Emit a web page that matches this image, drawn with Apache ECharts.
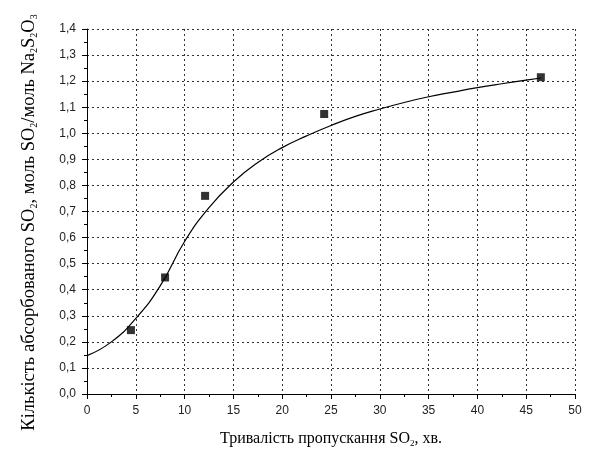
<!DOCTYPE html>
<html>
<head>
<meta charset="utf-8">
<script src="https://cdn.jsdelivr.net/npm/echarts@6/dist/echarts.min.js"></script>
<style>html,body{margin:0;padding:0;background:#fff}#c{width:591px;height:453px}</style>
</head>
<body>
<div id="c"></div>
<script>
// Measured points
const pointX = [4.5, 8.0, 12.1, 24.3, 46.5];
const pointY = [0.245, 0.447, 0.76, 1.074, 1.215];
// Fitted curve
const curveX = [0, 2.5, 5, 7.5, 10, 12.5, 15, 17.5, 20, 22.5, 25, 27.5, 30, 32.5, 35, 37.5, 40, 42.5, 45, 46.5];
const curveY = [0.147, 0.20, 0.29, 0.415, 0.585, 0.715, 0.813, 0.888, 0.945, 0.99, 1.03, 1.065, 1.093, 1.118, 1.14, 1.158, 1.175, 1.19, 1.204, 1.212];
const xTitle = 'Тривалість пропускання SO{s|2}, хв.';
const yTitle = 'Кількість абсорбованого SO{s|2}, моль SO{s|2}/моль Na{s|2}S{s|2}O{s|3}';

const chart = echarts.init(document.getElementById('c'));
const fmt = v => v.toFixed(1).replace('.', ',');
chart.setOption({
  animation: false,
  backgroundColor: '#fff',
  grid: { left: 87, right: 16, top: 29, bottom: 59, outerBoundsMode: 'none', containLabel: false },
  xAxis: {
    type: 'value', min: 0, max: 50, interval: 5,
    name: xTitle, nameLocation: 'middle', nameGap: 36,
    nameTextStyle: { fontFamily: 'Liberation Serif', fontSize: 16, color: '#000', lineHeight: 18,
      rich: { s: { fontSize: 9, lineHeight: 10, verticalAlign: 'bottom', fontFamily: 'Liberation Serif', color: '#000' } } },
    axisLine: { show: true, lineStyle: { color: '#000', width: 1 } },
    axisTick: { show: true, inside: false, length: 5, lineStyle: { color: '#000' } },
    minorTick: { show: true, splitNumber: 2, length: 3, lineStyle: { color: '#000' } },
    axisLabel: { fontFamily: 'Liberation Sans', fontSize: 12, color: '#222', margin: 11 },
    splitLine: { show: true, lineStyle: { color: '#333', type: [2, 3], width: 1 } }
  },
  yAxis: {
    type: 'value', min: 0, max: 1.4, interval: 0.1,
    name: yTitle, nameLocation: 'middle', nameGap: 48, nameRotate: 90,
    nameTextStyle: { fontFamily: 'Liberation Serif', fontSize: 18.5, color: '#000', lineHeight: 20,
      padding: [0, 22, 0, 0],
      rich: { s: { fontSize: 10, lineHeight: 11, verticalAlign: 'bottom', fontFamily: 'Liberation Serif', color: '#000' } } },
    axisLine: { show: true, lineStyle: { color: '#000', width: 1 } },
    axisTick: { show: true, inside: false, length: 5, lineStyle: { color: '#000' } },
    minorTick: { show: true, splitNumber: 2, length: 3, lineStyle: { color: '#000' } },
    axisLabel: { fontFamily: 'Liberation Sans', fontSize: 12, color: '#222', margin: 11, formatter: fmt },
    splitLine: { show: true, lineStyle: { color: '#333', type: [2, 3], width: 1 } }
  },
  series: [
    {
      type: 'line', smooth: 0.5, symbol: 'none',
      data: curveX.map((x, i) => [x, curveY[i]]),
      lineStyle: { color: '#000', width: 1.2 }
    },
    {
      type: 'scatter', symbol: 'rect', symbolSize: 8,
      data: pointX.map((x, i) => [x, pointY[i]]),
      itemStyle: { color: '#000' }
    }
  ]
});
</script>
</body>
</html>
